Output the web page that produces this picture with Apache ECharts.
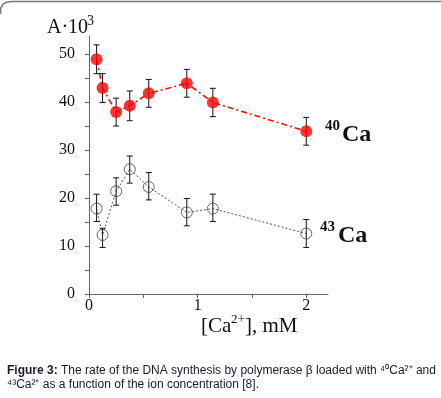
<!DOCTYPE html>
<html><head><meta charset="utf-8">
<script src="https://cdn.jsdelivr.net/npm/echarts@6/dist/echarts.min.js"></script>
<style>html,body{margin:0;padding:0;background:#fff}#c{width:441px;height:398px}</style>
</head><body><div id="c"></div>
<script>
// Data
var xCa = [0.07, 0.125, 0.25, 0.375, 0.55, 0.9, 1.14, 2.0];
var ca40 = [48.9, 42.9, 37.9, 39.2, 41.8, 43.9, 39.9, 33.9];
var ca40Err = [3.0, 3.0, 2.9, 3.1, 2.9, 2.9, 2.95, 2.9];
var ca43 = [17.8, 12.3, 21.4, 26.0, 22.3, 17.0, 17.8, 12.6];
var ca43ErrLow = [2.7, 2.6, 2.9, 2.9, 2.7, 2.8, 2.7, 2.9];
var ca43ErrHigh = [3.0, 1.4, 2.8, 2.75, 3.0, 2.9, 3.0, 2.9];
var yTickLabels = [0, 10, 20, 30, 40, 50];
var xTickLabels = [0, 1, 2];

var serif = '"Liberation Serif", "DejaVu Serif", serif';
var sans = '"Liberation Sans", Arial, sans-serif';
var chart = echarts.init(document.getElementById('c'), null, {renderer: 'canvas'});

function errData(x, y, lo, hi) {
  return x.map(function (v, i) { return [v, y[i] - lo[i], y[i] + hi[i]]; });
}
function errRender(params, api) {
  var p1 = api.coord([api.value(0), api.value(1)]);
  var p2 = api.coord([api.value(0), api.value(2)]);
  var w = 3;
  var st = {stroke: '#111', lineWidth: 1};
  return {type: 'group', children: [
    {type: 'line', shape: {x1: p1[0], y1: p1[1], x2: p2[0], y2: p2[1]}, style: st},
    {type: 'line', shape: {x1: p1[0] - w, y1: p1[1], x2: p1[0] + w, y2: p1[1]}, style: st},
    {type: 'line', shape: {x1: p2[0] - w, y1: p2[1], x2: p2[0] + w, y2: p2[1]}, style: st}
  ]};
}
function txt(str, left, top, size, bold, font) {
  return {type: 'text', left: left, top: top, style: {
    text: str, fontFamily: font || serif, fontSize: size,
    fontWeight: bold ? 'bold' : 'normal', fill: '#111'}};
}

chart.setOption({
  animation: false,
  grid: {left: 89, right: 113, top: 36, bottom: 104},
  xAxis: {
    type: 'value', min: 0, max: 2.2, interval: 0.5,
    axisLine: {lineStyle: {color: '#666', width: 1}},
    axisTick: {show: true, length: 4, lineStyle: {color: '#666'}, customValues: [0, 0.5, 1, 1.5, 2]},
    axisLabel: {color: '#111', fontFamily: serif, fontSize: 16, margin: 4, customValues: xTickLabels},
    splitLine: {show: false}
  },
  yAxis: {
    type: 'value', min: 0, max: 53.75, interval: 5,
    axisLine: {show: true, lineStyle: {color: '#666', width: 1}},
    axisTick: {show: true, length: 4, lineStyle: {color: '#666'}, customValues: [0, 5, 10, 15, 20, 25, 30, 35, 40, 45, 50]},
    axisLabel: {color: '#111', fontFamily: serif, fontSize: 16, margin: 14, customValues: yTickLabels},
    splitLine: {show: false}
  },
  series: [
    {type: 'line', data: xCa.map(function (v, i) { return [v, ca40[i]]; }),
     symbol: 'none', lineStyle: {color: '#ff0000', width: 1.5, type: [6, 3, 2, 3]}, z: 2},
    {type: 'custom', renderItem: errRender, data: errData(xCa, ca40, ca40Err, ca40Err), z: 3},
    {type: 'scatter', data: xCa.map(function (v, i) { return [v, ca40[i]]; }),
     symbol: 'circle', symbolSize: 12, itemStyle: {color: '#ff0000'}, z: 4},
    {type: 'line', data: xCa.map(function (v, i) { return [v, ca43[i]]; }),
     symbol: 'none', lineStyle: {color: '#555', width: 1, type: [2, 2]}, z: 2},
    {type: 'custom', renderItem: errRender, data: errData(xCa, ca43, ca43ErrLow, ca43ErrHigh), z: 3},
    {type: 'scatter', data: xCa.map(function (v, i) { return [v, ca43[i]]; }),
     symbol: 'circle', symbolSize: 11, itemStyle: {color: 'rgba(0,0,0,0)', borderColor: '#444', borderWidth: 1}, z: 4}
  ],
  graphic: [
    {type: 'polyline', shape: {points: [[0.5, 14], [0.8, 8], [3, 4], [7, 2], [12, 1.5], [441, 1.5]]},
     style: {stroke: '#777', lineWidth: 1.5, fill: null}},
    txt('A·10', 47, 18, 20, false),
    txt('3', 87, 14, 14, false),
    txt('40', 325, 119, 15, true),
    txt('Ca', 342, 123, 24, true),
    txt('43', 320, 220, 15, true),
    txt('Ca', 338, 224, 24, true),
    txt('[Ca', 201, 316, 21, false),
    txt('2+', 231, 313, 13, false),
    txt('], mM', 245, 316, 21, false),
    {type: 'text', left: 7, top: 365, style: {
      text: '{b|Figure 3:}{n| The rate of the DNA synthesis by polymerase β loaded with ⁴⁰Ca²⁺ and}',
      rich: {
        b: {fontFamily: sans, fontSize: 12, fontWeight: 'bold', fill: '#1a1a2e'},
        n: {fontFamily: sans, fontSize: 12, fill: '#1a1a2e'}
      }}},
    {type: 'text', left: 7, top: 379, style: {
      text: '⁴³Ca²⁺ as a function of the ion concentration [8].',
      fontFamily: sans, fontSize: 12, fill: '#1a1a2e'}}
  ]
});
</script></body></html>
